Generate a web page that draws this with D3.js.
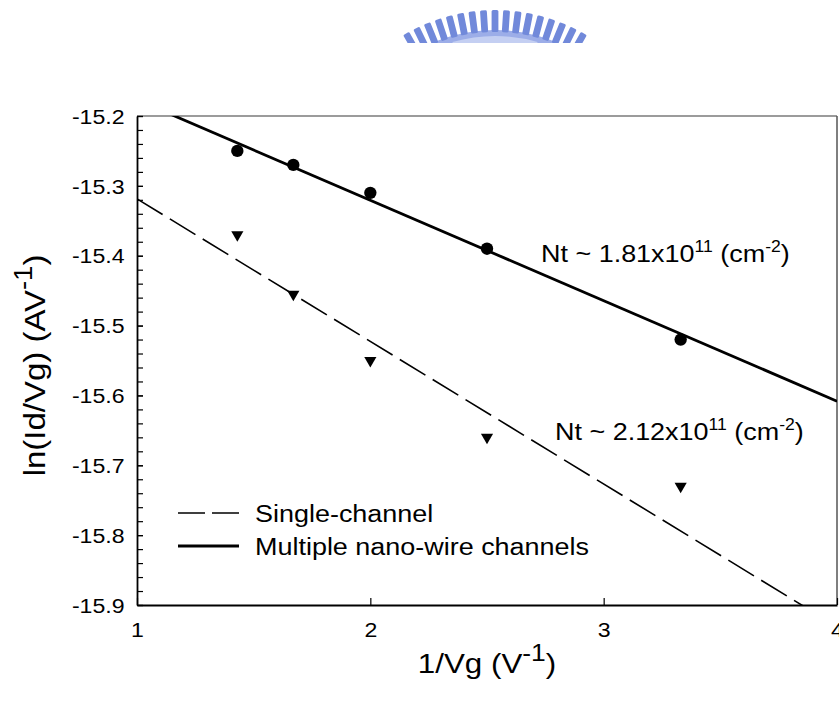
<!DOCTYPE html>
<html>
<head>
<meta charset="utf-8">
<script src="https://cdn.jsdelivr.net/npm/d3@7"></script>
<style>
  body { margin: 0; background: #fff; }
  svg text { font-family: "Liberation Sans", Arial, sans-serif; fill: #000; }
</style>
</head>
<body>
<svg id="chart" width="839" height="711"></svg>
<script>
// measured values (1/Vg in V^-1, ln(Id/Vg))
const invVg = [1.43, 1.67, 2.0, 2.5, 3.33];
const multiChannel = [-15.25, -15.27, -15.31, -15.39, -15.52];
const singleChannel = [-15.37, -15.455, -15.55, -15.66, -15.73];

// linear fits: [intercept, slope]
const multiFit = [-15.033, -0.1438];
const singleFit = [-15.1145, -0.2041];

const xTicks = [1, 2, 3, 4];
const yTicks = [-15.2, -15.3, -15.4, -15.5, -15.6, -15.7, -15.8, -15.9];
const yMinorTicks = d3.range(0, 36).map(i => -15.2 - i * 0.02);

const legendLabels = ["Single-channel", "Multiple nano-wire channels"];
const ntLabels = ["1.81", "2.12"];

const stretch = 1.1; // glyphs in the source are a bit wider than Arial

const svg = d3.select("#chart");
const margin = { top: 116, right: 2, bottom: 106, left: 137 };
const width = 839 - margin.left - margin.right;
const height = 711 - margin.top - margin.bottom;

// logo at the top (cut off by the page)
const logo = svg.append("g");
svg.append("clipPath").attr("id", "logoClip")
  .append("rect").attr("x", 0).attr("y", 0).attr("width", 839).attr("height", 43);
logo.attr("clip-path", "url(#logoClip)");
const lc = { x: 495, y: 190, r: 180 };
logo.append("path")
  .attr("transform", `translate(${lc.x},${lc.y})`)
  .attr("d", d3.arc()({ innerRadius: lc.r - 40, outerRadius: lc.r - 20, startAngle: -0.55, endAngle: 0.55 }))
  .attr("fill", "#9cade8");
logo.append("path")
  .attr("transform", `translate(${lc.x},${lc.y})`)
  .attr("d", d3.arc()({ innerRadius: lc.r - 38, outerRadius: lc.r - 26, startAngle: -0.28, endAngle: 0.28 }))
  .attr("fill", "#c4cff2");
d3.range(-8, 9).forEach(i => {
  const a = i * 3.7;
  logo.append("rect")
    .attr("transform", `translate(${lc.x},${lc.y}) rotate(${a})`)
    .attr("x", -3.4).attr("y", -lc.r).attr("width", 6.8).attr("height", 22)
    .attr("rx", 1.5).attr("fill", "#7189da");
});

const g = svg.append("g").attr("transform", `translate(${margin.left},${margin.top})`);

const x = d3.scaleLinear().domain([1, 4]).range([0, width]);
const y = d3.scaleLinear().domain([-15.9, -15.2]).range([height, 0]);

svg.append("clipPath").attr("id", "plotClip")
  .append("rect").attr("x", 0).attr("y", 0).attr("width", width).attr("height", height);

// frame: top and right in grey
g.append("line").attr("x1", 0).attr("x2", width).attr("y1", 0).attr("y2", 0)
  .attr("stroke", "#7a7a7a").attr("stroke-width", 1.5);
g.append("line").attr("x1", width).attr("x2", width).attr("y1", 0).attr("y2", height)
  .attr("stroke", "#555").attr("stroke-width", 1.5);

// y axis: minor + major ticks pointing inside
g.append("g")
  .call(d3.axisLeft(y).tickValues(yMinorTicks).tickSizeInner(-6).tickSizeOuter(0).tickFormat(""))
  .call(a => a.select(".domain").remove())
  .call(a => a.selectAll("line").attr("stroke-width", 1.2));

const yAxis = g.append("g")
  .call(d3.axisLeft(y).tickValues(yTicks).tickSizeInner(-6).tickSizeOuter(0)
    .tickPadding(12.5).tickFormat(d => d.toFixed(1)));
yAxis.select(".domain").attr("stroke-width", 1.8);
yAxis.selectAll("line").attr("stroke-width", 1.2);
yAxis.selectAll("text")
  .attr("font-size", 21).attr("font-family", null)
  .attr("dy", "0.34em")
  .attr("transform", `scale(${stretch},1)`)
  .attr("x", -12.5 / stretch);

const xAxis = g.append("g").attr("transform", `translate(0,${height})`)
  .call(d3.axisBottom(x).tickValues(xTicks).tickSizeInner(-7).tickSizeOuter(0)
    .tickPadding(17).tickFormat(d => String(d)));
xAxis.select(".domain").attr("stroke-width", 1.8);
xAxis.selectAll("line").attr("stroke-width", 1.2);
xAxis.selectAll("text")
  .attr("font-size", 21).attr("font-family", null)
  .attr("transform", `scale(${stretch},1)`);

// fit lines
const plot = g.append("g").attr("clip-path", "url(#plotClip)");
const fitLine = f => d3.line()([xTicks[0], xTicks[xTicks.length - 1]]
  .map(v => [x(v), y(f[0] + f[1] * v)]));

plot.append("path").attr("d", fitLine(singleFit))
  .attr("fill", "none").attr("stroke", "#000").attr("stroke-width", 1.6)
  .attr("stroke-dasharray", "30,8.5");
plot.append("path").attr("d", fitLine(multiFit))
  .attr("fill", "none").attr("stroke", "#000").attr("stroke-width", 2.8);

// markers
g.selectAll(".tri").data(invVg).enter().append("path")
  .attr("class", "tri")
  .attr("d", d3.symbol(d3.symbolTriangle, 64))
  .attr("transform", (d, i) => `translate(${x(d)},${y(singleChannel[i])}) rotate(180)`)
  .attr("fill", "#000");
g.selectAll(".dot").data(invVg).enter().append("path")
  .attr("class", "dot")
  .attr("d", d3.symbol(d3.symbolCircle, 120))
  .attr("transform", (d, i) => `translate(${x(d)},${y(multiChannel[i])})`)
  .attr("fill", "#000");

// annotations
function ntText(px, py, value) {
  const t = svg.append("text")
    .attr("transform", `translate(${px},${py}) scale(${stretch},1)`)
    .attr("font-size", 24.5);
  t.append("tspan").text(`Nt ~ ${value}x10`);
  t.append("tspan").attr("font-size", 16).attr("dy", -10).text("11");
  t.append("tspan").attr("dy", 10).text(" (cm");
  t.append("tspan").attr("font-size", 16).attr("dy", -10).text("-2");
  t.append("tspan").attr("dy", 10).text(")");
}
ntText(541, 262, ntLabels[0]);
ntText(555, 440, ntLabels[1]);

// legend
const legend = svg.append("g").attr("transform", "translate(178,513)");
legendLabels.forEach((label, i) => {
  const row = legend.append("g").attr("transform", `translate(0,${i * 33})`);
  row.append("line").attr("x1", 0).attr("x2", 61).attr("y1", 0).attr("y2", 0)
    .attr("stroke", "#000")
    .attr("stroke-width", i === 0 ? 1.6 : 2.8)
    .attr("stroke-dasharray", i === 0 ? "27,7" : null);
  row.append("text")
    .attr("transform", `translate(77,9) scale(${stretch},1)`)
    .attr("font-size", 24.5)
    .text(label);
});

// axis titles
const xTitle = svg.append("text")
  .attr("transform", `translate(${margin.left + width / 2},673) scale(${stretch},1)`)
  .attr("text-anchor", "middle")
  .attr("font-size", 28.5);
xTitle.append("tspan").text("1/Vg (V");
xTitle.append("tspan").attr("font-size", 24).attr("dy", -12).text("-1");
xTitle.append("tspan").attr("dy", 12).text(")");

const yTitle = svg.append("text")
  .attr("transform", `translate(45,${margin.top + height / 2 + 5}) scale(1,${stretch}) rotate(-90)`)
  .attr("text-anchor", "middle")
  .attr("font-size", 30);
yTitle.append("tspan").text("ln(Id/Vg) (AV");
yTitle.append("tspan").attr("font-size", 25).attr("dy", -13).text("-1");
yTitle.append("tspan").attr("dy", 13).text(")");
</script>
</body>
</html>
